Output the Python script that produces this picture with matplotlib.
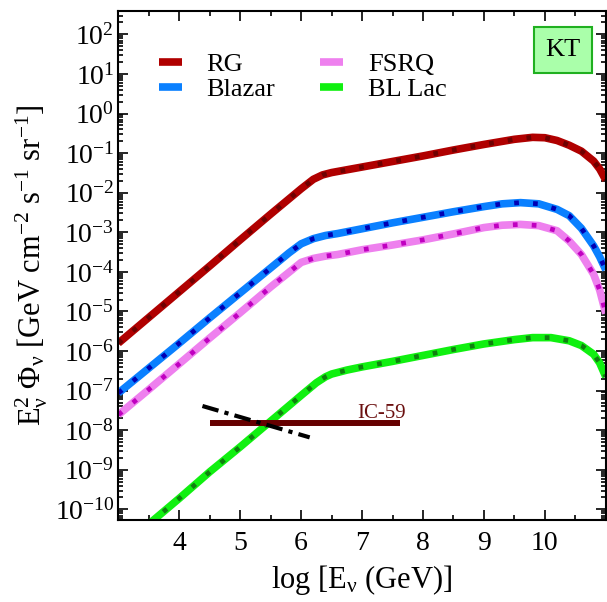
import numpy as np
import matplotlib
matplotlib.use("Agg")
import matplotlib.pyplot as plt
from matplotlib.ticker import FixedLocator, MultipleLocator, NullFormatter
from matplotlib.patches import Rectangle

plt.rcParams['font.family'] = ['Liberation Serif', 'DejaVu Serif']
plt.rcParams['mathtext.fontset'] = 'custom'
plt.rcParams['mathtext.rm'] = 'Liberation Serif'
plt.rcParams['mathtext.it'] = 'Liberation Serif:italic'
plt.rcParams['mathtext.bf'] = 'Liberation Serif:bold'

# log10(E/GeV) and log10(E^2 Phi)
rg_x = [3.0, 3.5, 4.0, 4.5, 5.0, 5.5, 6.0, 6.2, 6.35, 6.5, 6.75, 7.0, 7.5, 8.0,
        8.5, 9.0, 9.5, 9.8, 10.0, 10.2, 10.4, 10.6, 10.8, 10.9, 11.0]
rg_y = [-5.80, -5.15, -4.50, -3.85, -3.19, -2.54, -1.90, -1.66, -1.55, -1.49,
        -1.42, -1.35, -1.21, -1.07, -0.92, -0.78, -0.65, -0.60, -0.61, -0.68,
        -0.80, -0.95, -1.20, -1.40, -1.68]

blazar_x = [3.0, 3.5, 4.0, 4.5, 5.0, 5.5, 5.8, 6.0, 6.2, 6.4, 6.6, 7.0, 7.5, 8.0,
            8.5, 9.0, 9.3, 9.6, 9.9, 10.2, 10.4, 10.6, 10.8, 10.9, 11.0]
blazar_y = [-7.06, -6.43, -5.80, -5.16, -4.53, -3.90, -3.52, -3.29, -3.16, -3.08,
            -3.03, -2.91, -2.76, -2.62, -2.48, -2.35, -2.28, -2.25, -2.28, -2.42,
            -2.58, -2.90, -3.34, -3.62, -3.95]

fsrq_x = [3.0, 3.5, 4.0, 4.5, 5.0, 5.5, 5.8, 6.0, 6.2, 6.4, 6.6, 7.0, 7.5, 8.0,
          8.5, 9.0, 9.3, 9.6, 9.9, 10.2, 10.4, 10.6, 10.8, 10.9, 11.0]
fsrq_y = [-7.61, -6.97, -6.32, -5.67, -5.03, -4.38, -4.01, -3.76, -3.66, -3.60,
          -3.56, -3.44, -3.32, -3.19, -3.04, -2.88, -2.82, -2.80, -2.83, -2.96,
          -3.22, -3.56, -4.06, -4.46, -5.05]

bllac_x = [3.5, 4.0, 4.5, 5.0, 5.5, 6.0, 6.25, 6.4, 6.5, 6.75, 7.0, 7.5, 8.0,
           8.5, 9.0, 9.5, 9.8, 10.1, 10.4, 10.6, 10.8, 10.9, 11.0]
bllac_y = [-10.37, -9.72, -9.05, -8.42, -7.77, -7.12, -6.80, -6.65, -6.58, -6.48,
           -6.40, -6.26, -6.11, -5.96, -5.82, -5.71, -5.66, -5.66, -5.74, -5.86,
           -6.08, -6.30, -6.65]

# IceCube IC-59 limit and the dash-dot line
ic59_x = [4.5, 7.62]
ic59_y = [1.5e-8, 1.5e-8]
dd_x = [4.38, 6.14]
dd_y = [4.1e-8, 6.6e-9]

x_ticks = [4, 5, 6, 7, 8, 9, 10]
y_decades = list(range(-10, 3))

series = [
    ("RG", rg_x, rg_y, "#b00000", "#6e0000"),
    ("Blazar", blazar_x, blazar_y, "#0a80ff", "#0000b4"),
    ("FSRQ", fsrq_x, fsrq_y, "#ee80ee", "#c000c0"),
    ("BL Lac", bllac_x, bllac_y, "#10f010", "#108010"),
]

fig = plt.figure(figsize=(6.07, 6.02), dpi=100)
ax = fig.add_axes([0.195, 0.1362, 0.803, 0.8455])

for name, xs, ys, col, dcol in series:
    yv = 10.0 ** np.array(ys)
    ax.plot(xs, yv, color=col, lw=5.5, label=name, solid_capstyle='butt')
    ax.plot(xs, yv, color=dcol, lw=3.4, linestyle=(0, (1, 3.0)))

ax.plot(ic59_x, ic59_y, color="#660000", lw=4.3, solid_capstyle='butt')
ax.text(7.72, 1.55e-8, "IC-59", color="#6b1010", fontsize=15, ha='right', va='bottom')
ax.plot(dd_x, dd_y, color="black", lw=3.0, linestyle=(0, (4, 1.5, 1, 1.5)))

ax.set_yscale('log')
ax.set_xlim(3, 11)
ax.set_ylim(5.4e-11, 3.9e2)

ax.set_xticks(x_ticks)
ax.xaxis.set_minor_locator(MultipleLocator(0.5))
ax.set_yticks([10.0 ** d for d in y_decades])
ax.set_yticklabels([r"$10^{%d}$" % d for d in y_decades])
minor = [k * 10.0 ** d for d in range(-11, 3) for k in range(2, 10)]
minor = [m for m in minor if 5.4e-11 <= m <= 3.9e2]
ax.yaxis.set_minor_locator(FixedLocator(minor))
ax.yaxis.set_minor_formatter(NullFormatter())

ax.tick_params(which='both', direction='in', top=True, right=True, width=1.2)
ax.tick_params(which='major', length=7, labelsize=20)
ax.tick_params(which='minor', length=3.6)
ax.tick_params(axis='x', pad=8)
ax.tick_params(axis='y', pad=3)
for s in ax.spines.values():
    s.set_linewidth(1.5)

ax.set_xlabel(r"log [E$_{\mathrm{ν}}$ (GeV)]", fontsize=22, labelpad=5)
ax.set_ylabel(r"E$_{\mathrm{ν}}^{2}$ $\Phi_{\mathrm{ν}}$ [GeV cm$^{\mathrm{-2}}$ s$^{\mathrm{-1}}$ sr$^{\mathrm{-1}}$]",
              fontsize=22, labelpad=3)

leg = ax.legend(ncol=2, loc='upper left', bbox_to_anchor=(0.035, 0.965), frameon=False,
                fontsize=19, handlelength=0.85, handletextpad=0.95, columnspacing=1.7,
                labelspacing=0.05)

ax.add_patch(Rectangle((0.852, 0.878), 0.12, 0.09, transform=ax.transAxes,
                       facecolor="#aaffaa", edgecolor="#20b020", lw=1.5, zorder=5))
ax.text(0.912, 0.923, "KT", transform=ax.transAxes, fontsize=19,
        ha='center', va='center', zorder=6)

fig.savefig("out.png", dpi=100)
